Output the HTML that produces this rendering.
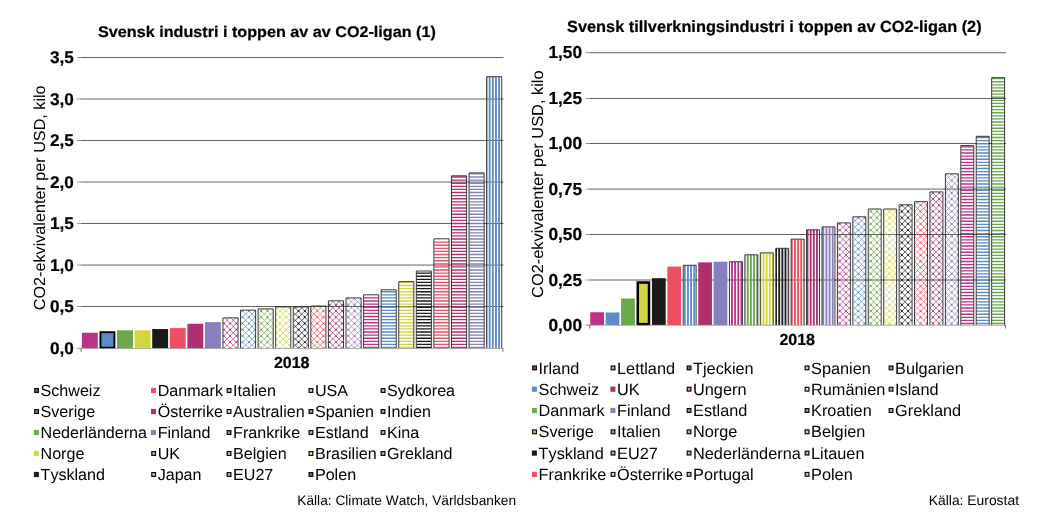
<!DOCTYPE html>
<html lang="sv">
<head>
<meta charset="utf-8">
<title>Svensk industri i toppen av CO2-ligan</title>
<style>
html,body{margin:0;padding:0;background:#fff;}
body{width:1058px;height:529px;overflow:hidden;}
svg{display:block;}
text{font-family:"Liberation Sans",Arial,Helvetica,sans-serif;fill:#000;text-rendering:geometricPrecision;font-kerning:none;}
.b{font-weight:bold;font-size:16px;stroke:#000;stroke-width:0.22px;stroke-linejoin:round;}
.t{font-size:16px;}
.r{font-weight:normal;}
.yl{font-size:16px;}
.l{font-size:16.1px;}
.s{font-size:13.7px;}
</style>
</head>
<body>
<svg width="1058" height="529" viewBox="0 0 1058 529">
<rect width="1058" height="529" fill="#fff"/>
<g id="chart-left">
<line x1="80.6" x2="503.4" y1="57.5" y2="57.5" stroke="#3a3a3a" stroke-width="0.8"/>
<line x1="80.6" x2="503.4" y1="99.0" y2="99.0" stroke="#3a3a3a" stroke-width="0.8"/>
<line x1="80.6" x2="503.4" y1="140.5" y2="140.5" stroke="#3a3a3a" stroke-width="0.8"/>
<line x1="80.6" x2="503.4" y1="182.05" y2="182.05" stroke="#3a3a3a" stroke-width="0.8"/>
<line x1="80.6" x2="503.4" y1="223.5" y2="223.5" stroke="#3a3a3a" stroke-width="0.8"/>
<line x1="80.6" x2="503.4" y1="265.05" y2="265.05" stroke="#3a3a3a" stroke-width="0.8"/>
<line x1="80.6" x2="503.4" y1="306.5" y2="306.5" stroke="#3a3a3a" stroke-width="0.8"/>
<rect x="81.90" y="332.75" width="15.90" height="15.50" fill="#c0318b"/>
<rect x="100.43" y="332.20" width="14.00" height="15.50" fill="#5b8bc8" stroke="#000" stroke-width="1.9"/>
<rect x="117.06" y="330.30" width="15.90" height="17.95" fill="#6aa84c"/>
<rect x="134.64" y="330.30" width="15.90" height="17.95" fill="#d3d63e"/>
<rect x="152.22" y="329.00" width="15.90" height="19.25" fill="#1a1a1a"/>
<rect x="169.80" y="328.10" width="15.90" height="20.15" fill="#f04e62"/>
<rect x="187.38" y="323.75" width="15.90" height="24.50" fill="#b02f70"/>
<rect x="204.96" y="322.10" width="15.90" height="26.15" fill="#877fbe"/>
<clipPath id="cl8"><rect x="223.24" y="318.20" width="14.50" height="30.05"/></clipPath>
<g clip-path="url(#cl8)"><path d="M223.24 353.86L237.74 368.36M223.24 347.64L237.74 362.14M223.24 341.42L237.74 355.92M223.24 335.20L237.74 349.70M223.24 328.98L237.74 343.48M223.24 322.76L237.74 337.26M223.24 316.54L237.74 331.04M223.24 310.32L237.74 324.82M223.24 304.10L237.74 318.60M223.24 297.88L237.74 312.38M223.24 317.90L237.74 303.40M223.24 324.12L237.74 309.62M223.24 330.34L237.74 315.84M223.24 336.56L237.74 322.06M223.24 342.78L237.74 328.28M223.24 349.00L237.74 334.50M223.24 355.22L237.74 340.72M223.24 361.44L237.74 346.94M223.24 367.66L237.74 353.16" stroke="#c0318b" stroke-width="0.68" fill="none"/><path d="M217.70 317.22h0M217.70 323.44h0M217.70 329.66h0M217.70 335.88h0M217.70 342.10h0M217.70 348.32h0M223.92 317.22h0M223.92 323.44h0M223.92 329.66h0M223.92 335.88h0M223.92 342.10h0M223.92 348.32h0M230.14 317.22h0M230.14 323.44h0M230.14 329.66h0M230.14 335.88h0M230.14 342.10h0M230.14 348.32h0M236.36 317.22h0M236.36 323.44h0M236.36 329.66h0M236.36 335.88h0M236.36 342.10h0M236.36 348.32h0M242.58 317.22h0M242.58 323.44h0M242.58 329.66h0M242.58 335.88h0M242.58 342.10h0M242.58 348.32h0" stroke="#c0318b" stroke-width="1.9" stroke-linecap="round" fill="none"/></g>
<path d="M222.94 348.25V317.90H238.04V348.25" fill="none" stroke="#151515" stroke-width="0.85"/>
<clipPath id="cl9"><rect x="240.82" y="310.45" width="14.50" height="37.80"/></clipPath>
<g clip-path="url(#cl9)"><path d="M240.82 352.78L255.32 367.28M240.82 346.56L255.32 361.06M240.82 340.34L255.32 354.84M240.82 334.12L255.32 348.62M240.82 327.90L255.32 342.40M240.82 321.68L255.32 336.18M240.82 315.46L255.32 329.96M240.82 309.24L255.32 323.74M240.82 303.02L255.32 317.52M240.82 296.80L255.32 311.30M240.82 290.58L255.32 305.08M240.82 306.54L255.32 292.04M240.82 312.76L255.32 298.26M240.82 318.98L255.32 304.48M240.82 325.20L255.32 310.70M240.82 331.42L255.32 316.92M240.82 337.64L255.32 323.14M240.82 343.86L255.32 329.36M240.82 350.08L255.32 335.58M240.82 356.30L255.32 341.80M240.82 362.52L255.32 348.02M240.82 368.74L255.32 354.24" stroke="#5b8bc8" stroke-width="0.68" fill="none"/><path d="M236.36 304.78h0M236.36 311.00h0M236.36 317.22h0M236.36 323.44h0M236.36 329.66h0M236.36 335.88h0M236.36 342.10h0M236.36 348.32h0M242.58 304.78h0M242.58 311.00h0M242.58 317.22h0M242.58 323.44h0M242.58 329.66h0M242.58 335.88h0M242.58 342.10h0M242.58 348.32h0M248.80 304.78h0M248.80 311.00h0M248.80 317.22h0M248.80 323.44h0M248.80 329.66h0M248.80 335.88h0M248.80 342.10h0M248.80 348.32h0M255.02 304.78h0M255.02 311.00h0M255.02 317.22h0M255.02 323.44h0M255.02 329.66h0M255.02 335.88h0M255.02 342.10h0M255.02 348.32h0M261.24 304.78h0M261.24 311.00h0M261.24 317.22h0M261.24 323.44h0M261.24 329.66h0M261.24 335.88h0M261.24 342.10h0M261.24 348.32h0" stroke="#5b8bc8" stroke-width="1.9" stroke-linecap="round" fill="none"/></g>
<path d="M240.52 348.25V310.15H255.62V348.25" fill="none" stroke="#151515" stroke-width="0.85"/>
<clipPath id="cl10"><rect x="258.40" y="309.20" width="14.50" height="39.05"/></clipPath>
<g clip-path="url(#cl10)"><path d="M258.40 351.70L272.90 366.20M258.40 345.48L272.90 359.98M258.40 339.26L272.90 353.76M258.40 333.04L272.90 347.54M258.40 326.82L272.90 341.32M258.40 320.60L272.90 335.10M258.40 314.38L272.90 328.88M258.40 308.16L272.90 322.66M258.40 301.94L272.90 316.44M258.40 295.72L272.90 310.22M258.40 289.50L272.90 304.00M258.40 307.62L272.90 293.12M258.40 313.84L272.90 299.34M258.40 320.06L272.90 305.56M258.40 326.28L272.90 311.78M258.40 332.50L272.90 318.00M258.40 338.72L272.90 324.22M258.40 344.94L272.90 330.44M258.40 351.16L272.90 336.66M258.40 357.38L272.90 342.88M258.40 363.60L272.90 349.10" stroke="#6aa84c" stroke-width="0.68" fill="none"/><path d="M255.02 304.78h0M255.02 311.00h0M255.02 317.22h0M255.02 323.44h0M255.02 329.66h0M255.02 335.88h0M255.02 342.10h0M255.02 348.32h0M261.24 304.78h0M261.24 311.00h0M261.24 317.22h0M261.24 323.44h0M261.24 329.66h0M261.24 335.88h0M261.24 342.10h0M261.24 348.32h0M267.46 304.78h0M267.46 311.00h0M267.46 317.22h0M267.46 323.44h0M267.46 329.66h0M267.46 335.88h0M267.46 342.10h0M267.46 348.32h0M273.68 304.78h0M273.68 311.00h0M273.68 317.22h0M273.68 323.44h0M273.68 329.66h0M273.68 335.88h0M273.68 342.10h0M273.68 348.32h0" stroke="#6aa84c" stroke-width="1.9" stroke-linecap="round" fill="none"/></g>
<path d="M258.10 348.25V308.90H273.20V348.25" fill="none" stroke="#151515" stroke-width="0.85"/>
<clipPath id="cl11"><rect x="275.98" y="307.20" width="14.50" height="41.05"/></clipPath>
<g clip-path="url(#cl11)"><path d="M275.98 350.62L290.48 365.12M275.98 344.40L290.48 358.90M275.98 338.18L290.48 352.68M275.98 331.96L290.48 346.46M275.98 325.74L290.48 340.24M275.98 319.52L290.48 334.02M275.98 313.30L290.48 327.80M275.98 307.08L290.48 321.58M275.98 300.86L290.48 315.36M275.98 294.64L290.48 309.14M275.98 288.42L290.48 302.92M275.98 302.48L290.48 287.98M275.98 308.70L290.48 294.20M275.98 314.92L290.48 300.42M275.98 321.14L290.48 306.64M275.98 327.36L290.48 312.86M275.98 333.58L290.48 319.08M275.98 339.80L290.48 325.30M275.98 346.02L290.48 331.52M275.98 352.24L290.48 337.74M275.98 358.46L290.48 343.96M275.98 364.68L290.48 350.18" stroke="#d3d63e" stroke-width="0.68" fill="none"/><path d="M273.68 304.78h0M273.68 311.00h0M273.68 317.22h0M273.68 323.44h0M273.68 329.66h0M273.68 335.88h0M273.68 342.10h0M273.68 348.32h0M279.90 304.78h0M279.90 311.00h0M279.90 317.22h0M279.90 323.44h0M279.90 329.66h0M279.90 335.88h0M279.90 342.10h0M279.90 348.32h0M286.12 304.78h0M286.12 311.00h0M286.12 317.22h0M286.12 323.44h0M286.12 329.66h0M286.12 335.88h0M286.12 342.10h0M286.12 348.32h0M292.34 304.78h0M292.34 311.00h0M292.34 317.22h0M292.34 323.44h0M292.34 329.66h0M292.34 335.88h0M292.34 342.10h0M292.34 348.32h0" stroke="#d3d63e" stroke-width="1.9" stroke-linecap="round" fill="none"/></g>
<path d="M275.68 348.25V306.90H290.78V348.25" fill="none" stroke="#151515" stroke-width="0.85"/>
<clipPath id="cl12"><rect x="293.56" y="307.20" width="14.50" height="41.05"/></clipPath>
<g clip-path="url(#cl12)"><path d="M293.56 349.54L308.06 364.04M293.56 343.32L308.06 357.82M293.56 337.10L308.06 351.60M293.56 330.88L308.06 345.38M293.56 324.66L308.06 339.16M293.56 318.44L308.06 332.94M293.56 312.22L308.06 326.72M293.56 306.00L308.06 320.50M293.56 299.78L308.06 314.28M293.56 293.56L308.06 308.06M293.56 287.34L308.06 301.84M293.56 303.56L308.06 289.06M293.56 309.78L308.06 295.28M293.56 316.00L308.06 301.50M293.56 322.22L308.06 307.72M293.56 328.44L308.06 313.94M293.56 334.66L308.06 320.16M293.56 340.88L308.06 326.38M293.56 347.10L308.06 332.60M293.56 353.32L308.06 338.82M293.56 359.54L308.06 345.04M293.56 365.76L308.06 351.26" stroke="#1a1a1a" stroke-width="0.68" fill="none"/><path d="M292.34 304.78h0M292.34 311.00h0M292.34 317.22h0M292.34 323.44h0M292.34 329.66h0M292.34 335.88h0M292.34 342.10h0M292.34 348.32h0M298.56 304.78h0M298.56 311.00h0M298.56 317.22h0M298.56 323.44h0M298.56 329.66h0M298.56 335.88h0M298.56 342.10h0M298.56 348.32h0M304.78 304.78h0M304.78 311.00h0M304.78 317.22h0M304.78 323.44h0M304.78 329.66h0M304.78 335.88h0M304.78 342.10h0M304.78 348.32h0M311.00 304.78h0M311.00 311.00h0M311.00 317.22h0M311.00 323.44h0M311.00 329.66h0M311.00 335.88h0M311.00 342.10h0M311.00 348.32h0" stroke="#1a1a1a" stroke-width="1.9" stroke-linecap="round" fill="none"/></g>
<path d="M293.26 348.25V306.90H308.36V348.25" fill="none" stroke="#151515" stroke-width="0.85"/>
<clipPath id="cl13"><rect x="311.14" y="306.30" width="14.50" height="41.95"/></clipPath>
<g clip-path="url(#cl13)"><path d="M311.14 348.46L325.64 362.96M311.14 342.24L325.64 356.74M311.14 336.02L325.64 350.52M311.14 329.80L325.64 344.30M311.14 323.58L325.64 338.08M311.14 317.36L325.64 331.86M311.14 311.14L325.64 325.64M311.14 304.92L325.64 319.42M311.14 298.70L325.64 313.20M311.14 292.48L325.64 306.98M311.14 286.26L325.64 300.76M311.14 304.64L325.64 290.14M311.14 310.86L325.64 296.36M311.14 317.08L325.64 302.58M311.14 323.30L325.64 308.80M311.14 329.52L325.64 315.02M311.14 335.74L325.64 321.24M311.14 341.96L325.64 327.46M311.14 348.18L325.64 333.68M311.14 354.40L325.64 339.90M311.14 360.62L325.64 346.12M311.14 366.84L325.64 352.34" stroke="#f04e62" stroke-width="0.68" fill="none"/><path d="M311.00 304.78h0M311.00 311.00h0M311.00 317.22h0M311.00 323.44h0M311.00 329.66h0M311.00 335.88h0M311.00 342.10h0M311.00 348.32h0M317.22 304.78h0M317.22 311.00h0M317.22 317.22h0M317.22 323.44h0M317.22 329.66h0M317.22 335.88h0M317.22 342.10h0M317.22 348.32h0M323.44 304.78h0M323.44 311.00h0M323.44 317.22h0M323.44 323.44h0M323.44 329.66h0M323.44 335.88h0M323.44 342.10h0M323.44 348.32h0M329.66 304.78h0M329.66 311.00h0M329.66 317.22h0M329.66 323.44h0M329.66 329.66h0M329.66 335.88h0M329.66 342.10h0M329.66 348.32h0" stroke="#f04e62" stroke-width="1.9" stroke-linecap="round" fill="none"/></g>
<path d="M310.84 348.25V306.00H325.94V348.25" fill="none" stroke="#151515" stroke-width="0.85"/>
<clipPath id="cl14"><rect x="328.72" y="301.10" width="14.50" height="47.15"/></clipPath>
<g clip-path="url(#cl14)"><path d="M328.72 353.60L343.22 368.10M328.72 347.38L343.22 361.88M328.72 341.16L343.22 355.66M328.72 334.94L343.22 349.44M328.72 328.72L343.22 343.22M328.72 322.50L343.22 337.00M328.72 316.28L343.22 330.78M328.72 310.06L343.22 324.56M328.72 303.84L343.22 318.34M328.72 297.62L343.22 312.12M328.72 291.40L343.22 305.90M328.72 285.18L343.22 299.68M328.72 299.50L343.22 285.00M328.72 305.72L343.22 291.22M328.72 311.94L343.22 297.44M328.72 318.16L343.22 303.66M328.72 324.38L343.22 309.88M328.72 330.60L343.22 316.10M328.72 336.82L343.22 322.32M328.72 343.04L343.22 328.54M328.72 349.26L343.22 334.76M328.72 355.48L343.22 340.98M328.72 361.70L343.22 347.20M328.72 367.92L343.22 353.42" stroke="#b02f70" stroke-width="0.68" fill="none"/><path d="M323.44 298.56h0M323.44 304.78h0M323.44 311.00h0M323.44 317.22h0M323.44 323.44h0M323.44 329.66h0M323.44 335.88h0M323.44 342.10h0M323.44 348.32h0M329.66 298.56h0M329.66 304.78h0M329.66 311.00h0M329.66 317.22h0M329.66 323.44h0M329.66 329.66h0M329.66 335.88h0M329.66 342.10h0M329.66 348.32h0M335.88 298.56h0M335.88 304.78h0M335.88 311.00h0M335.88 317.22h0M335.88 323.44h0M335.88 329.66h0M335.88 335.88h0M335.88 342.10h0M335.88 348.32h0M342.10 298.56h0M342.10 304.78h0M342.10 311.00h0M342.10 317.22h0M342.10 323.44h0M342.10 329.66h0M342.10 335.88h0M342.10 342.10h0M342.10 348.32h0M348.32 298.56h0M348.32 304.78h0M348.32 311.00h0M348.32 317.22h0M348.32 323.44h0M348.32 329.66h0M348.32 335.88h0M348.32 342.10h0M348.32 348.32h0" stroke="#b02f70" stroke-width="1.9" stroke-linecap="round" fill="none"/></g>
<path d="M328.42 348.25V300.80H343.52V348.25" fill="none" stroke="#151515" stroke-width="0.85"/>
<clipPath id="cl15"><rect x="346.30" y="298.20" width="14.50" height="50.05"/></clipPath>
<g clip-path="url(#cl15)"><path d="M346.30 352.52L360.80 367.02M346.30 346.30L360.80 360.80M346.30 340.08L360.80 354.58M346.30 333.86L360.80 348.36M346.30 327.64L360.80 342.14M346.30 321.42L360.80 335.92M346.30 315.20L360.80 329.70M346.30 308.98L360.80 323.48M346.30 302.76L360.80 317.26M346.30 296.54L360.80 311.04M346.30 290.32L360.80 304.82M346.30 284.10L360.80 298.60M346.30 277.88L360.80 292.38M346.30 294.36L360.80 279.86M346.30 300.58L360.80 286.08M346.30 306.80L360.80 292.30M346.30 313.02L360.80 298.52M346.30 319.24L360.80 304.74M346.30 325.46L360.80 310.96M346.30 331.68L360.80 317.18M346.30 337.90L360.80 323.40M346.30 344.12L360.80 329.62M346.30 350.34L360.80 335.84M346.30 356.56L360.80 342.06M346.30 362.78L360.80 348.28" stroke="#877fbe" stroke-width="0.68" fill="none"/><path d="M342.10 292.34h0M342.10 298.56h0M342.10 304.78h0M342.10 311.00h0M342.10 317.22h0M342.10 323.44h0M342.10 329.66h0M342.10 335.88h0M342.10 342.10h0M342.10 348.32h0M348.32 292.34h0M348.32 298.56h0M348.32 304.78h0M348.32 311.00h0M348.32 317.22h0M348.32 323.44h0M348.32 329.66h0M348.32 335.88h0M348.32 342.10h0M348.32 348.32h0M354.54 292.34h0M354.54 298.56h0M354.54 304.78h0M354.54 311.00h0M354.54 317.22h0M354.54 323.44h0M354.54 329.66h0M354.54 335.88h0M354.54 342.10h0M354.54 348.32h0M360.76 292.34h0M360.76 298.56h0M360.76 304.78h0M360.76 311.00h0M360.76 317.22h0M360.76 323.44h0M360.76 329.66h0M360.76 335.88h0M360.76 342.10h0M360.76 348.32h0M366.98 292.34h0M366.98 298.56h0M366.98 304.78h0M366.98 311.00h0M366.98 317.22h0M366.98 323.44h0M366.98 329.66h0M366.98 335.88h0M366.98 342.10h0M366.98 348.32h0" stroke="#877fbe" stroke-width="1.9" stroke-linecap="round" fill="none"/></g>
<path d="M346.00 348.25V297.90H361.10V348.25" fill="none" stroke="#151515" stroke-width="0.85"/>
<path d="M363.88 297.90H378.38M363.88 301.00H378.38M363.88 304.10H378.38M363.88 307.20H378.38M363.88 310.30H378.38M363.88 313.40H378.38M363.88 316.50H378.38M363.88 319.60H378.38M363.88 322.70H378.38M363.88 325.80H378.38M363.88 328.90H378.38M363.88 332.00H378.38M363.88 335.10H378.38M363.88 338.20H378.38M363.88 341.30H378.38M363.88 344.40H378.38M363.88 347.50H378.38" stroke="#c0318b" stroke-width="1.35" fill="none"/>
<path d="M363.58 348.25V294.80H378.68V348.25" fill="none" stroke="#151515" stroke-width="0.85"/>
<path d="M381.46 291.70H395.96M381.46 294.80H395.96M381.46 297.90H395.96M381.46 301.00H395.96M381.46 304.10H395.96M381.46 307.20H395.96M381.46 310.30H395.96M381.46 313.40H395.96M381.46 316.50H395.96M381.46 319.60H395.96M381.46 322.70H395.96M381.46 325.80H395.96M381.46 328.90H395.96M381.46 332.00H395.96M381.46 335.10H395.96M381.46 338.20H395.96M381.46 341.30H395.96M381.46 344.40H395.96M381.46 347.50H395.96" stroke="#5b8bc8" stroke-width="1.35" fill="none"/>
<path d="M381.16 348.25V289.80H396.26V348.25" fill="none" stroke="#151515" stroke-width="0.85"/>
<path d="M399.04 282.40H413.54M399.04 285.50H413.54M399.04 288.60H413.54M399.04 291.70H413.54M399.04 294.80H413.54M399.04 297.90H413.54M399.04 301.00H413.54M399.04 304.10H413.54M399.04 307.20H413.54M399.04 310.30H413.54M399.04 313.40H413.54M399.04 316.50H413.54M399.04 319.60H413.54M399.04 322.70H413.54M399.04 325.80H413.54M399.04 328.90H413.54M399.04 332.00H413.54M399.04 335.10H413.54M399.04 338.20H413.54M399.04 341.30H413.54M399.04 344.40H413.54M399.04 347.50H413.54" stroke="#d3d63e" stroke-width="1.35" fill="none"/>
<path d="M398.74 348.25V281.65H413.84V348.25" fill="none" stroke="#151515" stroke-width="0.85"/>
<path d="M416.62 273.10H431.12M416.62 276.20H431.12M416.62 279.30H431.12M416.62 282.40H431.12M416.62 285.50H431.12M416.62 288.60H431.12M416.62 291.70H431.12M416.62 294.80H431.12M416.62 297.90H431.12M416.62 301.00H431.12M416.62 304.10H431.12M416.62 307.20H431.12M416.62 310.30H431.12M416.62 313.40H431.12M416.62 316.50H431.12M416.62 319.60H431.12M416.62 322.70H431.12M416.62 325.80H431.12M416.62 328.90H431.12M416.62 332.00H431.12M416.62 335.10H431.12M416.62 338.20H431.12M416.62 341.30H431.12M416.62 344.40H431.12M416.62 347.50H431.12" stroke="#1a1a1a" stroke-width="1.35" fill="none"/>
<path d="M416.32 348.25V271.00H431.42V348.25" fill="none" stroke="#151515" stroke-width="0.85"/>
<path d="M434.20 242.10H448.70M434.20 245.20H448.70M434.20 248.30H448.70M434.20 251.40H448.70M434.20 254.50H448.70M434.20 257.60H448.70M434.20 260.70H448.70M434.20 263.80H448.70M434.20 266.90H448.70M434.20 270.00H448.70M434.20 273.10H448.70M434.20 276.20H448.70M434.20 279.30H448.70M434.20 282.40H448.70M434.20 285.50H448.70M434.20 288.60H448.70M434.20 291.70H448.70M434.20 294.80H448.70M434.20 297.90H448.70M434.20 301.00H448.70M434.20 304.10H448.70M434.20 307.20H448.70M434.20 310.30H448.70M434.20 313.40H448.70M434.20 316.50H448.70M434.20 319.60H448.70M434.20 322.70H448.70M434.20 325.80H448.70M434.20 328.90H448.70M434.20 332.00H448.70M434.20 335.10H448.70M434.20 338.20H448.70M434.20 341.30H448.70M434.20 344.40H448.70M434.20 347.50H448.70" stroke="#f04e62" stroke-width="1.35" fill="none"/>
<path d="M433.90 348.25V238.80H449.00V348.25" fill="none" stroke="#151515" stroke-width="0.85"/>
<path d="M451.78 177.00H466.28M451.78 180.10H466.28M451.78 183.20H466.28M451.78 186.30H466.28M451.78 189.40H466.28M451.78 192.50H466.28M451.78 195.60H466.28M451.78 198.70H466.28M451.78 201.80H466.28M451.78 204.90H466.28M451.78 208.00H466.28M451.78 211.10H466.28M451.78 214.20H466.28M451.78 217.30H466.28M451.78 220.40H466.28M451.78 223.50H466.28M451.78 226.60H466.28M451.78 229.70H466.28M451.78 232.80H466.28M451.78 235.90H466.28M451.78 239.00H466.28M451.78 242.10H466.28M451.78 245.20H466.28M451.78 248.30H466.28M451.78 251.40H466.28M451.78 254.50H466.28M451.78 257.60H466.28M451.78 260.70H466.28M451.78 263.80H466.28M451.78 266.90H466.28M451.78 270.00H466.28M451.78 273.10H466.28M451.78 276.20H466.28M451.78 279.30H466.28M451.78 282.40H466.28M451.78 285.50H466.28M451.78 288.60H466.28M451.78 291.70H466.28M451.78 294.80H466.28M451.78 297.90H466.28M451.78 301.00H466.28M451.78 304.10H466.28M451.78 307.20H466.28M451.78 310.30H466.28M451.78 313.40H466.28M451.78 316.50H466.28M451.78 319.60H466.28M451.78 322.70H466.28M451.78 325.80H466.28M451.78 328.90H466.28M451.78 332.00H466.28M451.78 335.10H466.28M451.78 338.20H466.28M451.78 341.30H466.28M451.78 344.40H466.28M451.78 347.50H466.28" stroke="#b02f70" stroke-width="1.35" fill="none"/>
<path d="M451.48 348.25V175.80H466.58V348.25" fill="none" stroke="#151515" stroke-width="0.85"/>
<path d="M469.36 173.90H483.86M469.36 177.00H483.86M469.36 180.10H483.86M469.36 183.20H483.86M469.36 186.30H483.86M469.36 189.40H483.86M469.36 192.50H483.86M469.36 195.60H483.86M469.36 198.70H483.86M469.36 201.80H483.86M469.36 204.90H483.86M469.36 208.00H483.86M469.36 211.10H483.86M469.36 214.20H483.86M469.36 217.30H483.86M469.36 220.40H483.86M469.36 223.50H483.86M469.36 226.60H483.86M469.36 229.70H483.86M469.36 232.80H483.86M469.36 235.90H483.86M469.36 239.00H483.86M469.36 242.10H483.86M469.36 245.20H483.86M469.36 248.30H483.86M469.36 251.40H483.86M469.36 254.50H483.86M469.36 257.60H483.86M469.36 260.70H483.86M469.36 263.80H483.86M469.36 266.90H483.86M469.36 270.00H483.86M469.36 273.10H483.86M469.36 276.20H483.86M469.36 279.30H483.86M469.36 282.40H483.86M469.36 285.50H483.86M469.36 288.60H483.86M469.36 291.70H483.86M469.36 294.80H483.86M469.36 297.90H483.86M469.36 301.00H483.86M469.36 304.10H483.86M469.36 307.20H483.86M469.36 310.30H483.86M469.36 313.40H483.86M469.36 316.50H483.86M469.36 319.60H483.86M469.36 322.70H483.86M469.36 325.80H483.86M469.36 328.90H483.86M469.36 332.00H483.86M469.36 335.10H483.86M469.36 338.20H483.86M469.36 341.30H483.86M469.36 344.40H483.86M469.36 347.50H483.86" stroke="#877fbe" stroke-width="1.35" fill="none"/>
<path d="M469.06 348.25V172.90H484.16V348.25" fill="none" stroke="#151515" stroke-width="0.85"/>
<path d="M486.94 76.95H487.43V348.25H486.94ZM488.72 76.95H490.57V348.25H488.72ZM491.87 76.95H493.72V348.25H491.87ZM495.02 76.95H496.87V348.25H495.02ZM498.17 76.95H500.02V348.25H498.17Z" fill="#5b8bc8"/>
<path d="M486.64 348.25V76.65H501.74V348.25" fill="none" stroke="#151515" stroke-width="0.85"/>
<line x1="78.6" x2="503.4" y1="348.55" y2="348.55" stroke="#999" stroke-width="0.8"/>
<line x1="81.1" x2="81.1" y1="348.25" y2="351.85" stroke="#666" stroke-width="0.9"/>
<line x1="502.9" x2="502.9" y1="348.25" y2="351.85" stroke="#666" stroke-width="0.9"/>
<text x="50.02" y="63.30" class="b" style="font-size:17.0px" textLength="23.88" lengthAdjust="spacingAndGlyphs">3,5</text>
<line x1="77.00" x2="80.6" y1="57.5" y2="57.5" stroke="#8a8a8a" stroke-width="0.9"/>
<text x="50.02" y="104.80" class="b" style="font-size:17.0px" textLength="23.88" lengthAdjust="spacingAndGlyphs">3,0</text>
<line x1="77.00" x2="80.6" y1="99.0" y2="99.0" stroke="#8a8a8a" stroke-width="0.9"/>
<text x="50.02" y="146.30" class="b" style="font-size:17.0px" textLength="23.88" lengthAdjust="spacingAndGlyphs">2,5</text>
<line x1="77.00" x2="80.6" y1="140.5" y2="140.5" stroke="#8a8a8a" stroke-width="0.9"/>
<text x="50.02" y="187.85" class="b" style="font-size:17.0px" textLength="23.88" lengthAdjust="spacingAndGlyphs">2,0</text>
<line x1="77.00" x2="80.6" y1="182.05" y2="182.05" stroke="#8a8a8a" stroke-width="0.9"/>
<text x="50.02" y="229.30" class="b" style="font-size:17.0px" textLength="23.88" lengthAdjust="spacingAndGlyphs">1,5</text>
<line x1="77.00" x2="80.6" y1="223.5" y2="223.5" stroke="#8a8a8a" stroke-width="0.9"/>
<text x="50.02" y="270.85" class="b" style="font-size:17.0px" textLength="23.88" lengthAdjust="spacingAndGlyphs">1,0</text>
<line x1="77.00" x2="80.6" y1="265.05" y2="265.05" stroke="#8a8a8a" stroke-width="0.9"/>
<text x="50.02" y="312.30" class="b" style="font-size:17.0px" textLength="23.88" lengthAdjust="spacingAndGlyphs">0,5</text>
<line x1="77.00" x2="80.6" y1="306.5" y2="306.5" stroke="#8a8a8a" stroke-width="0.9"/>
<text x="50.02" y="354.05" class="b" style="font-size:17.0px" textLength="23.88" lengthAdjust="spacingAndGlyphs">0,0</text>
<line x1="77.00" x2="80.6" y1="348.25" y2="348.25" stroke="#8a8a8a" stroke-width="0.9"/>
<text x="98.10" y="36.6" class="b" style="font-size:15.45px" textLength="337.7" lengthAdjust="spacingAndGlyphs">Svensk industri i toppen av av CO2-ligan (1)</text>
<text transform="translate(45,197.8) rotate(-90)" text-anchor="middle" class="r yl" textLength="224.8" lengthAdjust="spacingAndGlyphs">CO2-ekvivalenter per USD, kilo</text>
<text x="291.7" y="368" text-anchor="middle" class="b">2018</text>
<text x="516.1" y="504.85" text-anchor="end" class="r" style="font-size:13.72px">Källa: Climate Watch, Världsbanken</text>
<rect x="34.10" y="388.00" width="4.9" height="5.0" fill="#0a0a0a"/><rect x="35.30" y="389.20" width="2.5" height="2.6" fill="#c0318b"/>
<text x="40.55" y="396.10" class="r" style="font-size:16.1px">Schweiz</text>
<rect x="34.10" y="409.00" width="4.9" height="5.0" fill="#0a0a0a"/><rect x="35.30" y="410.20" width="2.5" height="2.6" fill="#5b8bc8"/>
<text x="40.55" y="417.10" class="r" style="font-size:16.1px">Sverige</text>
<rect x="33.9" y="429.90" width="5.0" height="5.2" fill="#6aa84c"/>
<text x="40.55" y="438.10" class="r" style="font-size:16.1px">Nederländerna</text>
<rect x="33.9" y="450.90" width="5.0" height="5.2" fill="#d3d63e"/>
<text x="40.55" y="459.10" class="r" style="font-size:16.1px">Norge</text>
<rect x="33.9" y="471.90" width="5.0" height="5.2" fill="#1a1a1a"/>
<text x="40.55" y="480.10" class="r" style="font-size:16.1px">Tyskland</text>
<rect x="151.0" y="387.90" width="5.0" height="5.2" fill="#f04e62"/>
<text x="157.65" y="396.10" class="r" style="font-size:16.1px">Danmark</text>
<rect x="151.0" y="408.90" width="5.0" height="5.2" fill="#b02f70"/>
<text x="157.65" y="417.10" class="r" style="font-size:16.1px">Österrike</text>
<rect x="151.0" y="429.90" width="5.0" height="5.2" fill="#877fbe"/>
<text x="157.65" y="438.10" class="r" style="font-size:16.1px">Finland</text>
<rect x="151.20" y="451.00" width="4.9" height="5.0" fill="#0a0a0a"/><rect x="152.40" y="452.20" width="2.5" height="2.6" fill="#e3a2cb"/>
<text x="157.65" y="459.10" class="r" style="font-size:16.1px">UK</text>
<rect x="151.20" y="472.00" width="4.9" height="5.0" fill="#0a0a0a"/><rect x="152.40" y="473.20" width="2.5" height="2.6" fill="#b5cbe6"/>
<text x="157.65" y="480.10" class="r" style="font-size:16.1px">Japan</text>
<rect x="226.60" y="388.00" width="4.9" height="5.0" fill="#0a0a0a"/><rect x="227.80" y="389.20" width="2.5" height="2.6" fill="#bcd8ae"/>
<text x="233.05" y="396.10" class="r" style="font-size:16.1px">Italien</text>
<rect x="226.60" y="409.00" width="4.9" height="5.0" fill="#0a0a0a"/><rect x="227.80" y="410.20" width="2.5" height="2.6" fill="#ebeda8"/>
<text x="233.05" y="417.10" class="r" style="font-size:16.1px">Australien</text>
<rect x="226.60" y="430.00" width="4.9" height="5.0" fill="#0a0a0a"/><rect x="227.80" y="431.20" width="2.5" height="2.6" fill="#989898"/>
<text x="233.05" y="438.10" class="r" style="font-size:16.1px">Frankrike</text>
<rect x="226.60" y="451.00" width="4.9" height="5.0" fill="#0a0a0a"/><rect x="227.80" y="452.20" width="2.5" height="2.6" fill="#f8afb8"/>
<text x="233.05" y="459.10" class="r" style="font-size:16.1px">Belgien</text>
<rect x="226.60" y="472.00" width="4.9" height="5.0" fill="#0a0a0a"/><rect x="227.80" y="473.20" width="2.5" height="2.6" fill="#dba1bf"/>
<text x="233.05" y="480.10" class="r" style="font-size:16.1px">EU27</text>
<rect x="308.50" y="388.00" width="4.9" height="5.0" fill="#0a0a0a"/><rect x="309.70" y="389.20" width="2.5" height="2.6" fill="#c9c5e2"/>
<text x="314.95" y="396.10" class="r" style="font-size:16.1px">USA</text>
<rect x="308.50" y="409.00" width="4.9" height="5.0" fill="#0a0a0a"/><rect x="309.70" y="410.20" width="2.5" height="2.6" fill="#d87fb7"/>
<text x="314.95" y="417.10" class="r" style="font-size:16.1px">Spanien</text>
<rect x="308.50" y="430.00" width="4.9" height="5.0" fill="#0a0a0a"/><rect x="309.70" y="431.20" width="2.5" height="2.6" fill="#99b7dd"/>
<text x="314.95" y="438.10" class="r" style="font-size:16.1px">Estland</text>
<rect x="308.50" y="451.00" width="4.9" height="5.0" fill="#0a0a0a"/><rect x="309.70" y="452.20" width="2.5" height="2.6" fill="#e4e687"/>
<text x="314.95" y="459.10" class="r" style="font-size:16.1px">Brasilien</text>
<rect x="308.50" y="472.00" width="4.9" height="5.0" fill="#0a0a0a"/><rect x="309.70" y="473.20" width="2.5" height="2.6" fill="#717171"/>
<text x="314.95" y="480.10" class="r" style="font-size:16.1px">Polen</text>
<rect x="380.60" y="388.00" width="4.9" height="5.0" fill="#0a0a0a"/><rect x="381.80" y="389.20" width="2.5" height="2.6" fill="#f6919e"/>
<text x="387.05" y="396.10" class="r" style="font-size:16.1px">Sydkorea</text>
<rect x="380.60" y="409.00" width="4.9" height="5.0" fill="#0a0a0a"/><rect x="381.80" y="410.20" width="2.5" height="2.6" fill="#ce7ea6"/>
<text x="387.05" y="417.10" class="r" style="font-size:16.1px">Indien</text>
<rect x="380.60" y="430.00" width="4.9" height="5.0" fill="#0a0a0a"/><rect x="381.80" y="431.20" width="2.5" height="2.6" fill="#b5b0d7"/>
<text x="387.05" y="438.10" class="r" style="font-size:16.1px">Kina</text>
<rect x="380.60" y="451.00" width="4.9" height="5.0" fill="#0a0a0a"/><rect x="381.80" y="452.20" width="2.5" height="2.6" fill="#99b7dd"/>
<text x="387.05" y="459.10" class="r" style="font-size:16.1px">Grekland</text>
</g>
<g id="chart-right">
<line x1="589.2" x2="1006.0" y1="52.7" y2="52.7" stroke="#3a3a3a" stroke-width="0.8"/>
<line x1="589.2" x2="1006.0" y1="98.5" y2="98.5" stroke="#3a3a3a" stroke-width="0.8"/>
<line x1="589.2" x2="1006.0" y1="143.5" y2="143.5" stroke="#3a3a3a" stroke-width="0.8"/>
<line x1="589.2" x2="1006.0" y1="189.1" y2="189.1" stroke="#3a3a3a" stroke-width="0.8"/>
<line x1="589.2" x2="1006.0" y1="234.5" y2="234.5" stroke="#3a3a3a" stroke-width="0.8"/>
<line x1="589.2" x2="1006.0" y1="280.0" y2="280.0" stroke="#3a3a3a" stroke-width="0.8"/>
<rect x="590.25" y="312.25" width="13.75" height="12.75" fill="#c0318b"/>
<rect x="605.67" y="312.50" width="13.75" height="12.50" fill="#5b8bc8"/>
<rect x="621.10" y="298.50" width="13.75" height="26.50" fill="#6aa84c"/>
<rect x="637.77" y="282.50" width="11.25" height="41.65" fill="#d3d63e" stroke="#000" stroke-width="2.5"/>
<rect x="651.94" y="278.20" width="13.75" height="46.80" fill="#1a1a1a"/>
<rect x="667.37" y="266.60" width="13.75" height="58.40" fill="#f04e62"/>
<path d="M683.87 265.60H685.72V325.00H683.87ZM687.02 265.60H688.87V325.00H687.02ZM690.16 265.60H692.01V325.00H690.16ZM693.31 265.60H695.16V325.00H693.31Z" fill="#5b8bc8"/>
<path d="M683.19 325.00V265.30H696.14V325.00" fill="none" stroke="#151515" stroke-width="0.85"/>
<rect x="698.21" y="262.35" width="13.75" height="62.65" fill="#b02f70"/>
<rect x="713.63" y="261.70" width="13.75" height="63.30" fill="#877fbe"/>
<path d="M731.08 262.00H732.93V325.00H731.08ZM734.22 262.00H736.07V325.00H734.22ZM737.37 262.00H739.22V325.00H737.37ZM740.52 262.00H742.11V325.00H740.52Z" fill="#c0318b"/>
<path d="M729.46 325.00V261.70H742.41V325.00" fill="none" stroke="#151515" stroke-width="0.85"/>
<path d="M745.18 255.10H745.51V325.00H745.18ZM746.81 255.10H748.66V325.00H746.81ZM749.96 255.10H751.81V325.00H749.96ZM753.10 255.10H754.95V325.00H753.10ZM756.25 255.10H757.53V325.00H756.25Z" fill="#6aa84c"/>
<path d="M744.88 325.00V254.80H757.83V325.00" fill="none" stroke="#151515" stroke-width="0.85"/>
<path d="M760.60 253.20H761.25V325.00H760.60ZM762.55 253.20H764.40V325.00H762.55ZM765.69 253.20H767.54V325.00H765.69ZM768.84 253.20H770.69V325.00H768.84ZM771.99 253.20H772.95V325.00H771.99Z" fill="#d3d63e"/>
<path d="M760.30 325.00V252.90H773.25V325.00" fill="none" stroke="#151515" stroke-width="0.85"/>
<path d="M776.03 248.60H776.98V325.00H776.03ZM778.28 248.60H780.13V325.00H778.28ZM781.43 248.60H783.28V325.00H781.43ZM784.57 248.60H786.42V325.00H784.57ZM787.72 248.60H788.38V325.00H787.72Z" fill="#1a1a1a"/>
<path d="M775.73 325.00V248.30H788.68V325.00" fill="none" stroke="#151515" stroke-width="0.85"/>
<path d="M791.45 239.45H792.72V325.00H791.45ZM794.02 239.45H795.87V325.00H794.02ZM797.16 239.45H799.01V325.00H797.16ZM800.31 239.45H802.16V325.00H800.31ZM803.46 239.45H803.80V325.00H803.46Z" fill="#f04e62"/>
<path d="M791.15 325.00V239.15H804.10V325.00" fill="none" stroke="#151515" stroke-width="0.85"/>
<path d="M806.87 230.10H808.45V325.00H806.87ZM809.75 230.10H811.60V325.00H809.75ZM812.90 230.10H814.75V325.00H812.90ZM816.04 230.10H817.89V325.00H816.04Z" fill="#b02f70"/>
<path d="M806.57 325.00V229.80H819.52V325.00" fill="none" stroke="#151515" stroke-width="0.85"/>
<path d="M822.34 227.20H824.19V325.00H822.34ZM825.49 227.20H827.34V325.00H825.49ZM828.63 227.20H830.48V325.00H828.63ZM831.78 227.20H833.63V325.00H831.78Z" fill="#877fbe"/>
<path d="M822.00 325.00V226.90H834.95V325.00" fill="none" stroke="#151515" stroke-width="0.85"/>
<clipPath id="cr16"><rect x="837.72" y="223.20" width="12.35" height="101.80"/></clipPath>
<g clip-path="url(#cr16)"><path d="M837.72 327.68L850.07 340.03M837.72 321.46L850.07 333.81M837.72 315.24L850.07 327.59M837.72 309.02L850.07 321.37M837.72 302.80L850.07 315.15M837.72 296.58L850.07 308.93M837.72 290.36L850.07 302.71M837.72 284.14L850.07 296.49M837.72 277.92L850.07 290.27M837.72 271.70L850.07 284.05M837.72 265.48L850.07 277.83M837.72 259.26L850.07 271.61M837.72 253.04L850.07 265.39M837.72 246.82L850.07 259.17M837.72 240.60L850.07 252.95M837.72 234.38L850.07 246.73M837.72 228.16L850.07 240.51M837.72 221.94L850.07 234.29M837.72 215.72L850.07 228.07M837.72 209.50L850.07 221.85M837.72 219.68L850.07 207.33M837.72 225.90L850.07 213.55M837.72 232.12L850.07 219.77M837.72 238.34L850.07 225.99M837.72 244.56L850.07 232.21M837.72 250.78L850.07 238.43M837.72 257.00L850.07 244.65M837.72 263.22L850.07 250.87M837.72 269.44L850.07 257.09M837.72 275.66L850.07 263.31M837.72 281.88L850.07 269.53M837.72 288.10L850.07 275.75M837.72 294.32L850.07 281.97M837.72 300.54L850.07 288.19M837.72 306.76L850.07 294.41M837.72 312.98L850.07 300.63M837.72 319.20L850.07 306.85M837.72 325.42L850.07 313.07M837.72 331.64L850.07 319.29M837.72 337.86L850.07 325.51" stroke="#c0318b" stroke-width="0.68" fill="none"/><path d="M833.48 217.70h0M833.48 223.92h0M833.48 230.14h0M833.48 236.36h0M833.48 242.58h0M833.48 248.80h0M833.48 255.02h0M833.48 261.24h0M833.48 267.46h0M833.48 273.68h0M833.48 279.90h0M833.48 286.12h0M833.48 292.34h0M833.48 298.56h0M833.48 304.78h0M833.48 311.00h0M833.48 317.22h0M833.48 323.44h0M833.48 329.66h0M839.70 217.70h0M839.70 223.92h0M839.70 230.14h0M839.70 236.36h0M839.70 242.58h0M839.70 248.80h0M839.70 255.02h0M839.70 261.24h0M839.70 267.46h0M839.70 273.68h0M839.70 279.90h0M839.70 286.12h0M839.70 292.34h0M839.70 298.56h0M839.70 304.78h0M839.70 311.00h0M839.70 317.22h0M839.70 323.44h0M839.70 329.66h0M845.92 217.70h0M845.92 223.92h0M845.92 230.14h0M845.92 236.36h0M845.92 242.58h0M845.92 248.80h0M845.92 255.02h0M845.92 261.24h0M845.92 267.46h0M845.92 273.68h0M845.92 279.90h0M845.92 286.12h0M845.92 292.34h0M845.92 298.56h0M845.92 304.78h0M845.92 311.00h0M845.92 317.22h0M845.92 323.44h0M845.92 329.66h0M852.14 217.70h0M852.14 223.92h0M852.14 230.14h0M852.14 236.36h0M852.14 242.58h0M852.14 248.80h0M852.14 255.02h0M852.14 261.24h0M852.14 267.46h0M852.14 273.68h0M852.14 279.90h0M852.14 286.12h0M852.14 292.34h0M852.14 298.56h0M852.14 304.78h0M852.14 311.00h0M852.14 317.22h0M852.14 323.44h0M852.14 329.66h0" stroke="#c0318b" stroke-width="1.9" stroke-linecap="round" fill="none"/></g>
<path d="M837.42 325.00V222.90H850.37V325.00" fill="none" stroke="#151515" stroke-width="0.85"/>
<clipPath id="cr17"><rect x="853.14" y="217.10" width="12.35" height="107.90"/></clipPath>
<g clip-path="url(#cr17)"><path d="M853.14 330.66L865.49 343.01M853.14 324.44L865.49 336.79M853.14 318.22L865.49 330.57M853.14 312.00L865.49 324.35M853.14 305.78L865.49 318.13M853.14 299.56L865.49 311.91M853.14 293.34L865.49 305.69M853.14 287.12L865.49 299.47M853.14 280.90L865.49 293.25M853.14 274.68L865.49 287.03M853.14 268.46L865.49 280.81M853.14 262.24L865.49 274.59M853.14 256.02L865.49 268.37M853.14 249.80L865.49 262.15M853.14 243.58L865.49 255.93M853.14 237.36L865.49 249.71M853.14 231.14L865.49 243.49M853.14 224.92L865.49 237.27M853.14 218.70L865.49 231.05M853.14 212.48L865.49 224.83M853.14 206.26L865.49 218.61M853.14 200.04L865.49 212.39M853.14 216.70L865.49 204.35M853.14 222.92L865.49 210.57M853.14 229.14L865.49 216.79M853.14 235.36L865.49 223.01M853.14 241.58L865.49 229.23M853.14 247.80L865.49 235.45M853.14 254.02L865.49 241.67M853.14 260.24L865.49 247.89M853.14 266.46L865.49 254.11M853.14 272.68L865.49 260.33M853.14 278.90L865.49 266.55M853.14 285.12L865.49 272.77M853.14 291.34L865.49 278.99M853.14 297.56L865.49 285.21M853.14 303.78L865.49 291.43M853.14 310.00L865.49 297.65M853.14 316.22L865.49 303.87M853.14 322.44L865.49 310.09M853.14 328.66L865.49 316.31M853.14 334.88L865.49 322.53M853.14 341.10L865.49 328.75" stroke="#5b8bc8" stroke-width="0.68" fill="none"/><path d="M852.14 211.48h0M852.14 217.70h0M852.14 223.92h0M852.14 230.14h0M852.14 236.36h0M852.14 242.58h0M852.14 248.80h0M852.14 255.02h0M852.14 261.24h0M852.14 267.46h0M852.14 273.68h0M852.14 279.90h0M852.14 286.12h0M852.14 292.34h0M852.14 298.56h0M852.14 304.78h0M852.14 311.00h0M852.14 317.22h0M852.14 323.44h0M852.14 329.66h0M858.36 211.48h0M858.36 217.70h0M858.36 223.92h0M858.36 230.14h0M858.36 236.36h0M858.36 242.58h0M858.36 248.80h0M858.36 255.02h0M858.36 261.24h0M858.36 267.46h0M858.36 273.68h0M858.36 279.90h0M858.36 286.12h0M858.36 292.34h0M858.36 298.56h0M858.36 304.78h0M858.36 311.00h0M858.36 317.22h0M858.36 323.44h0M858.36 329.66h0M864.58 211.48h0M864.58 217.70h0M864.58 223.92h0M864.58 230.14h0M864.58 236.36h0M864.58 242.58h0M864.58 248.80h0M864.58 255.02h0M864.58 261.24h0M864.58 267.46h0M864.58 273.68h0M864.58 279.90h0M864.58 286.12h0M864.58 292.34h0M864.58 298.56h0M864.58 304.78h0M864.58 311.00h0M864.58 317.22h0M864.58 323.44h0M864.58 329.66h0M870.80 211.48h0M870.80 217.70h0M870.80 223.92h0M870.80 230.14h0M870.80 236.36h0M870.80 242.58h0M870.80 248.80h0M870.80 255.02h0M870.80 261.24h0M870.80 267.46h0M870.80 273.68h0M870.80 279.90h0M870.80 286.12h0M870.80 292.34h0M870.80 298.56h0M870.80 304.78h0M870.80 311.00h0M870.80 317.22h0M870.80 323.44h0M870.80 329.66h0" stroke="#5b8bc8" stroke-width="1.9" stroke-linecap="round" fill="none"/></g>
<path d="M852.84 325.00V216.80H865.79V325.00" fill="none" stroke="#151515" stroke-width="0.85"/>
<clipPath id="cr18"><rect x="868.56" y="209.30" width="12.35" height="115.70"/></clipPath>
<g clip-path="url(#cr18)"><path d="M868.56 327.42L880.91 339.77M868.56 321.20L880.91 333.55M868.56 314.98L880.91 327.33M868.56 308.76L880.91 321.11M868.56 302.54L880.91 314.89M868.56 296.32L880.91 308.67M868.56 290.10L880.91 302.45M868.56 283.88L880.91 296.23M868.56 277.66L880.91 290.01M868.56 271.44L880.91 283.79M868.56 265.22L880.91 277.57M868.56 259.00L880.91 271.35M868.56 252.78L880.91 265.13M868.56 246.56L880.91 258.91M868.56 240.34L880.91 252.69M868.56 234.12L880.91 246.47M868.56 227.90L880.91 240.25M868.56 221.68L880.91 234.03M868.56 215.46L880.91 227.81M868.56 209.24L880.91 221.59M868.56 203.02L880.91 215.37M868.56 196.80L880.91 209.15M868.56 207.50L880.91 195.15M868.56 213.72L880.91 201.37M868.56 219.94L880.91 207.59M868.56 226.16L880.91 213.81M868.56 232.38L880.91 220.03M868.56 238.60L880.91 226.25M868.56 244.82L880.91 232.47M868.56 251.04L880.91 238.69M868.56 257.26L880.91 244.91M868.56 263.48L880.91 251.13M868.56 269.70L880.91 257.35M868.56 275.92L880.91 263.57M868.56 282.14L880.91 269.79M868.56 288.36L880.91 276.01M868.56 294.58L880.91 282.23M868.56 300.80L880.91 288.45M868.56 307.02L880.91 294.67M868.56 313.24L880.91 300.89M868.56 319.46L880.91 307.11M868.56 325.68L880.91 313.33M868.56 331.90L880.91 319.55M868.56 338.12L880.91 325.77" stroke="#6aa84c" stroke-width="0.68" fill="none"/><path d="M864.58 205.26h0M864.58 211.48h0M864.58 217.70h0M864.58 223.92h0M864.58 230.14h0M864.58 236.36h0M864.58 242.58h0M864.58 248.80h0M864.58 255.02h0M864.58 261.24h0M864.58 267.46h0M864.58 273.68h0M864.58 279.90h0M864.58 286.12h0M864.58 292.34h0M864.58 298.56h0M864.58 304.78h0M864.58 311.00h0M864.58 317.22h0M864.58 323.44h0M864.58 329.66h0M870.80 205.26h0M870.80 211.48h0M870.80 217.70h0M870.80 223.92h0M870.80 230.14h0M870.80 236.36h0M870.80 242.58h0M870.80 248.80h0M870.80 255.02h0M870.80 261.24h0M870.80 267.46h0M870.80 273.68h0M870.80 279.90h0M870.80 286.12h0M870.80 292.34h0M870.80 298.56h0M870.80 304.78h0M870.80 311.00h0M870.80 317.22h0M870.80 323.44h0M870.80 329.66h0M877.02 205.26h0M877.02 211.48h0M877.02 217.70h0M877.02 223.92h0M877.02 230.14h0M877.02 236.36h0M877.02 242.58h0M877.02 248.80h0M877.02 255.02h0M877.02 261.24h0M877.02 267.46h0M877.02 273.68h0M877.02 279.90h0M877.02 286.12h0M877.02 292.34h0M877.02 298.56h0M877.02 304.78h0M877.02 311.00h0M877.02 317.22h0M877.02 323.44h0M877.02 329.66h0M883.24 205.26h0M883.24 211.48h0M883.24 217.70h0M883.24 223.92h0M883.24 230.14h0M883.24 236.36h0M883.24 242.58h0M883.24 248.80h0M883.24 255.02h0M883.24 261.24h0M883.24 267.46h0M883.24 273.68h0M883.24 279.90h0M883.24 286.12h0M883.24 292.34h0M883.24 298.56h0M883.24 304.78h0M883.24 311.00h0M883.24 317.22h0M883.24 323.44h0M883.24 329.66h0" stroke="#6aa84c" stroke-width="1.9" stroke-linecap="round" fill="none"/></g>
<path d="M868.26 325.00V209.00H881.21V325.00" fill="none" stroke="#151515" stroke-width="0.85"/>
<clipPath id="cr19"><rect x="883.99" y="209.30" width="12.35" height="115.70"/></clipPath>
<g clip-path="url(#cr19)"><path d="M883.99 330.41L896.34 342.76M883.99 324.19L896.34 336.54M883.99 317.97L896.34 330.32M883.99 311.75L896.34 324.10M883.99 305.53L896.34 317.88M883.99 299.31L896.34 311.66M883.99 293.09L896.34 305.44M883.99 286.87L896.34 299.22M883.99 280.65L896.34 293.00M883.99 274.43L896.34 286.78M883.99 268.21L896.34 280.56M883.99 261.99L896.34 274.34M883.99 255.77L896.34 268.12M883.99 249.55L896.34 261.90M883.99 243.33L896.34 255.68M883.99 237.11L896.34 249.46M883.99 230.89L896.34 243.24M883.99 224.67L896.34 237.02M883.99 218.45L896.34 230.80M883.99 212.23L896.34 224.58M883.99 206.01L896.34 218.36M883.99 199.79L896.34 212.14M883.99 193.57L896.34 205.92M883.99 204.51L896.34 192.16M883.99 210.73L896.34 198.38M883.99 216.95L896.34 204.60M883.99 223.17L896.34 210.82M883.99 229.39L896.34 217.04M883.99 235.61L896.34 223.26M883.99 241.83L896.34 229.48M883.99 248.05L896.34 235.70M883.99 254.27L896.34 241.92M883.99 260.49L896.34 248.14M883.99 266.71L896.34 254.36M883.99 272.93L896.34 260.58M883.99 279.15L896.34 266.80M883.99 285.37L896.34 273.02M883.99 291.59L896.34 279.24M883.99 297.81L896.34 285.46M883.99 304.03L896.34 291.68M883.99 310.25L896.34 297.90M883.99 316.47L896.34 304.12M883.99 322.69L896.34 310.34M883.99 328.91L896.34 316.56M883.99 335.13L896.34 322.78M883.99 341.35L896.34 329.00" stroke="#d3d63e" stroke-width="0.68" fill="none"/><path d="M883.24 205.26h0M883.24 211.48h0M883.24 217.70h0M883.24 223.92h0M883.24 230.14h0M883.24 236.36h0M883.24 242.58h0M883.24 248.80h0M883.24 255.02h0M883.24 261.24h0M883.24 267.46h0M883.24 273.68h0M883.24 279.90h0M883.24 286.12h0M883.24 292.34h0M883.24 298.56h0M883.24 304.78h0M883.24 311.00h0M883.24 317.22h0M883.24 323.44h0M883.24 329.66h0M889.46 205.26h0M889.46 211.48h0M889.46 217.70h0M889.46 223.92h0M889.46 230.14h0M889.46 236.36h0M889.46 242.58h0M889.46 248.80h0M889.46 255.02h0M889.46 261.24h0M889.46 267.46h0M889.46 273.68h0M889.46 279.90h0M889.46 286.12h0M889.46 292.34h0M889.46 298.56h0M889.46 304.78h0M889.46 311.00h0M889.46 317.22h0M889.46 323.44h0M889.46 329.66h0M895.68 205.26h0M895.68 211.48h0M895.68 217.70h0M895.68 223.92h0M895.68 230.14h0M895.68 236.36h0M895.68 242.58h0M895.68 248.80h0M895.68 255.02h0M895.68 261.24h0M895.68 267.46h0M895.68 273.68h0M895.68 279.90h0M895.68 286.12h0M895.68 292.34h0M895.68 298.56h0M895.68 304.78h0M895.68 311.00h0M895.68 317.22h0M895.68 323.44h0M895.68 329.66h0M901.90 205.26h0M901.90 211.48h0M901.90 217.70h0M901.90 223.92h0M901.90 230.14h0M901.90 236.36h0M901.90 242.58h0M901.90 248.80h0M901.90 255.02h0M901.90 261.24h0M901.90 267.46h0M901.90 273.68h0M901.90 279.90h0M901.90 286.12h0M901.90 292.34h0M901.90 298.56h0M901.90 304.78h0M901.90 311.00h0M901.90 317.22h0M901.90 323.44h0M901.90 329.66h0" stroke="#d3d63e" stroke-width="1.9" stroke-linecap="round" fill="none"/></g>
<path d="M883.69 325.00V209.00H896.64V325.00" fill="none" stroke="#151515" stroke-width="0.85"/>
<clipPath id="cr20"><rect x="899.41" y="205.10" width="12.35" height="119.90"/></clipPath>
<g clip-path="url(#cr20)"><path d="M899.41 327.17L911.76 339.52M899.41 320.95L911.76 333.30M899.41 314.73L911.76 327.08M899.41 308.51L911.76 320.86M899.41 302.29L911.76 314.64M899.41 296.07L911.76 308.42M899.41 289.85L911.76 302.20M899.41 283.63L911.76 295.98M899.41 277.41L911.76 289.76M899.41 271.19L911.76 283.54M899.41 264.97L911.76 277.32M899.41 258.75L911.76 271.10M899.41 252.53L911.76 264.88M899.41 246.31L911.76 258.66M899.41 240.09L911.76 252.44M899.41 233.87L911.76 246.22M899.41 227.65L911.76 240.00M899.41 221.43L911.76 233.78M899.41 215.21L911.76 227.56M899.41 208.99L911.76 221.34M899.41 202.77L911.76 215.12M899.41 196.55L911.76 208.90M899.41 190.33L911.76 202.68M899.41 201.53L911.76 189.18M899.41 207.75L911.76 195.40M899.41 213.97L911.76 201.62M899.41 220.19L911.76 207.84M899.41 226.41L911.76 214.06M899.41 232.63L911.76 220.28M899.41 238.85L911.76 226.50M899.41 245.07L911.76 232.72M899.41 251.29L911.76 238.94M899.41 257.51L911.76 245.16M899.41 263.73L911.76 251.38M899.41 269.95L911.76 257.60M899.41 276.17L911.76 263.82M899.41 282.39L911.76 270.04M899.41 288.61L911.76 276.26M899.41 294.83L911.76 282.48M899.41 301.05L911.76 288.70M899.41 307.27L911.76 294.92M899.41 313.49L911.76 301.14M899.41 319.71L911.76 307.36M899.41 325.93L911.76 313.58M899.41 332.15L911.76 319.80M899.41 338.37L911.76 326.02" stroke="#1a1a1a" stroke-width="0.68" fill="none"/><path d="M895.68 199.04h0M895.68 205.26h0M895.68 211.48h0M895.68 217.70h0M895.68 223.92h0M895.68 230.14h0M895.68 236.36h0M895.68 242.58h0M895.68 248.80h0M895.68 255.02h0M895.68 261.24h0M895.68 267.46h0M895.68 273.68h0M895.68 279.90h0M895.68 286.12h0M895.68 292.34h0M895.68 298.56h0M895.68 304.78h0M895.68 311.00h0M895.68 317.22h0M895.68 323.44h0M895.68 329.66h0M901.90 199.04h0M901.90 205.26h0M901.90 211.48h0M901.90 217.70h0M901.90 223.92h0M901.90 230.14h0M901.90 236.36h0M901.90 242.58h0M901.90 248.80h0M901.90 255.02h0M901.90 261.24h0M901.90 267.46h0M901.90 273.68h0M901.90 279.90h0M901.90 286.12h0M901.90 292.34h0M901.90 298.56h0M901.90 304.78h0M901.90 311.00h0M901.90 317.22h0M901.90 323.44h0M901.90 329.66h0M908.12 199.04h0M908.12 205.26h0M908.12 211.48h0M908.12 217.70h0M908.12 223.92h0M908.12 230.14h0M908.12 236.36h0M908.12 242.58h0M908.12 248.80h0M908.12 255.02h0M908.12 261.24h0M908.12 267.46h0M908.12 273.68h0M908.12 279.90h0M908.12 286.12h0M908.12 292.34h0M908.12 298.56h0M908.12 304.78h0M908.12 311.00h0M908.12 317.22h0M908.12 323.44h0M908.12 329.66h0M914.34 199.04h0M914.34 205.26h0M914.34 211.48h0M914.34 217.70h0M914.34 223.92h0M914.34 230.14h0M914.34 236.36h0M914.34 242.58h0M914.34 248.80h0M914.34 255.02h0M914.34 261.24h0M914.34 267.46h0M914.34 273.68h0M914.34 279.90h0M914.34 286.12h0M914.34 292.34h0M914.34 298.56h0M914.34 304.78h0M914.34 311.00h0M914.34 317.22h0M914.34 323.44h0M914.34 329.66h0" stroke="#1a1a1a" stroke-width="1.9" stroke-linecap="round" fill="none"/></g>
<path d="M899.11 325.00V204.80H912.06V325.00" fill="none" stroke="#151515" stroke-width="0.85"/>
<clipPath id="cr21"><rect x="914.83" y="202.00" width="12.35" height="123.00"/></clipPath>
<g clip-path="url(#cr21)"><path d="M914.83 330.15L927.18 342.50M914.83 323.93L927.18 336.28M914.83 317.71L927.18 330.06M914.83 311.49L927.18 323.84M914.83 305.27L927.18 317.62M914.83 299.05L927.18 311.40M914.83 292.83L927.18 305.18M914.83 286.61L927.18 298.96M914.83 280.39L927.18 292.74M914.83 274.17L927.18 286.52M914.83 267.95L927.18 280.30M914.83 261.73L927.18 274.08M914.83 255.51L927.18 267.86M914.83 249.29L927.18 261.64M914.83 243.07L927.18 255.42M914.83 236.85L927.18 249.20M914.83 230.63L927.18 242.98M914.83 224.41L927.18 236.76M914.83 218.19L927.18 230.54M914.83 211.97L927.18 224.32M914.83 205.75L927.18 218.10M914.83 199.53L927.18 211.88M914.83 193.31L927.18 205.66M914.83 187.09L927.18 199.44M914.83 198.55L927.18 186.20M914.83 204.77L927.18 192.42M914.83 210.99L927.18 198.64M914.83 217.21L927.18 204.86M914.83 223.43L927.18 211.08M914.83 229.65L927.18 217.30M914.83 235.87L927.18 223.52M914.83 242.09L927.18 229.74M914.83 248.31L927.18 235.96M914.83 254.53L927.18 242.18M914.83 260.75L927.18 248.40M914.83 266.97L927.18 254.62M914.83 273.19L927.18 260.84M914.83 279.41L927.18 267.06M914.83 285.63L927.18 273.28M914.83 291.85L927.18 279.50M914.83 298.07L927.18 285.72M914.83 304.29L927.18 291.94M914.83 310.51L927.18 298.16M914.83 316.73L927.18 304.38M914.83 322.95L927.18 310.60M914.83 329.17L927.18 316.82M914.83 335.39L927.18 323.04M914.83 341.61L927.18 329.26" stroke="#f04e62" stroke-width="0.68" fill="none"/><path d="M914.34 199.04h0M914.34 205.26h0M914.34 211.48h0M914.34 217.70h0M914.34 223.92h0M914.34 230.14h0M914.34 236.36h0M914.34 242.58h0M914.34 248.80h0M914.34 255.02h0M914.34 261.24h0M914.34 267.46h0M914.34 273.68h0M914.34 279.90h0M914.34 286.12h0M914.34 292.34h0M914.34 298.56h0M914.34 304.78h0M914.34 311.00h0M914.34 317.22h0M914.34 323.44h0M914.34 329.66h0M920.56 199.04h0M920.56 205.26h0M920.56 211.48h0M920.56 217.70h0M920.56 223.92h0M920.56 230.14h0M920.56 236.36h0M920.56 242.58h0M920.56 248.80h0M920.56 255.02h0M920.56 261.24h0M920.56 267.46h0M920.56 273.68h0M920.56 279.90h0M920.56 286.12h0M920.56 292.34h0M920.56 298.56h0M920.56 304.78h0M920.56 311.00h0M920.56 317.22h0M920.56 323.44h0M920.56 329.66h0M926.78 199.04h0M926.78 205.26h0M926.78 211.48h0M926.78 217.70h0M926.78 223.92h0M926.78 230.14h0M926.78 236.36h0M926.78 242.58h0M926.78 248.80h0M926.78 255.02h0M926.78 261.24h0M926.78 267.46h0M926.78 273.68h0M926.78 279.90h0M926.78 286.12h0M926.78 292.34h0M926.78 298.56h0M926.78 304.78h0M926.78 311.00h0M926.78 317.22h0M926.78 323.44h0M926.78 329.66h0M933.00 199.04h0M933.00 205.26h0M933.00 211.48h0M933.00 217.70h0M933.00 223.92h0M933.00 230.14h0M933.00 236.36h0M933.00 242.58h0M933.00 248.80h0M933.00 255.02h0M933.00 261.24h0M933.00 267.46h0M933.00 273.68h0M933.00 279.90h0M933.00 286.12h0M933.00 292.34h0M933.00 298.56h0M933.00 304.78h0M933.00 311.00h0M933.00 317.22h0M933.00 323.44h0M933.00 329.66h0" stroke="#f04e62" stroke-width="1.9" stroke-linecap="round" fill="none"/></g>
<path d="M914.53 325.00V201.70H927.48V325.00" fill="none" stroke="#151515" stroke-width="0.85"/>
<clipPath id="cr22"><rect x="930.26" y="192.20" width="12.35" height="132.80"/></clipPath>
<g clip-path="url(#cr22)"><path d="M930.26 326.92L942.61 339.27M930.26 320.70L942.61 333.05M930.26 314.48L942.61 326.83M930.26 308.26L942.61 320.61M930.26 302.04L942.61 314.39M930.26 295.82L942.61 308.17M930.26 289.60L942.61 301.95M930.26 283.38L942.61 295.73M930.26 277.16L942.61 289.51M930.26 270.94L942.61 283.29M930.26 264.72L942.61 277.07M930.26 258.50L942.61 270.85M930.26 252.28L942.61 264.63M930.26 246.06L942.61 258.41M930.26 239.84L942.61 252.19M930.26 233.62L942.61 245.97M930.26 227.40L942.61 239.75M930.26 221.18L942.61 233.53M930.26 214.96L942.61 227.31M930.26 208.74L942.61 221.09M930.26 202.52L942.61 214.87M930.26 196.30L942.61 208.65M930.26 190.08L942.61 202.43M930.26 183.86L942.61 196.21M930.26 177.64L942.61 189.99M930.26 189.34L942.61 176.99M930.26 195.56L942.61 183.21M930.26 201.78L942.61 189.43M930.26 208.00L942.61 195.65M930.26 214.22L942.61 201.87M930.26 220.44L942.61 208.09M930.26 226.66L942.61 214.31M930.26 232.88L942.61 220.53M930.26 239.10L942.61 226.75M930.26 245.32L942.61 232.97M930.26 251.54L942.61 239.19M930.26 257.76L942.61 245.41M930.26 263.98L942.61 251.63M930.26 270.20L942.61 257.85M930.26 276.42L942.61 264.07M930.26 282.64L942.61 270.29M930.26 288.86L942.61 276.51M930.26 295.08L942.61 282.73M930.26 301.30L942.61 288.95M930.26 307.52L942.61 295.17M930.26 313.74L942.61 301.39M930.26 319.96L942.61 307.61M930.26 326.18L942.61 313.83M930.26 332.40L942.61 320.05M930.26 338.62L942.61 326.27" stroke="#b02f70" stroke-width="0.68" fill="none"/><path d="M926.78 186.60h0M926.78 192.82h0M926.78 199.04h0M926.78 205.26h0M926.78 211.48h0M926.78 217.70h0M926.78 223.92h0M926.78 230.14h0M926.78 236.36h0M926.78 242.58h0M926.78 248.80h0M926.78 255.02h0M926.78 261.24h0M926.78 267.46h0M926.78 273.68h0M926.78 279.90h0M926.78 286.12h0M926.78 292.34h0M926.78 298.56h0M926.78 304.78h0M926.78 311.00h0M926.78 317.22h0M926.78 323.44h0M926.78 329.66h0M933.00 186.60h0M933.00 192.82h0M933.00 199.04h0M933.00 205.26h0M933.00 211.48h0M933.00 217.70h0M933.00 223.92h0M933.00 230.14h0M933.00 236.36h0M933.00 242.58h0M933.00 248.80h0M933.00 255.02h0M933.00 261.24h0M933.00 267.46h0M933.00 273.68h0M933.00 279.90h0M933.00 286.12h0M933.00 292.34h0M933.00 298.56h0M933.00 304.78h0M933.00 311.00h0M933.00 317.22h0M933.00 323.44h0M933.00 329.66h0M939.22 186.60h0M939.22 192.82h0M939.22 199.04h0M939.22 205.26h0M939.22 211.48h0M939.22 217.70h0M939.22 223.92h0M939.22 230.14h0M939.22 236.36h0M939.22 242.58h0M939.22 248.80h0M939.22 255.02h0M939.22 261.24h0M939.22 267.46h0M939.22 273.68h0M939.22 279.90h0M939.22 286.12h0M939.22 292.34h0M939.22 298.56h0M939.22 304.78h0M939.22 311.00h0M939.22 317.22h0M939.22 323.44h0M939.22 329.66h0M945.44 186.60h0M945.44 192.82h0M945.44 199.04h0M945.44 205.26h0M945.44 211.48h0M945.44 217.70h0M945.44 223.92h0M945.44 230.14h0M945.44 236.36h0M945.44 242.58h0M945.44 248.80h0M945.44 255.02h0M945.44 261.24h0M945.44 267.46h0M945.44 273.68h0M945.44 279.90h0M945.44 286.12h0M945.44 292.34h0M945.44 298.56h0M945.44 304.78h0M945.44 311.00h0M945.44 317.22h0M945.44 323.44h0M945.44 329.66h0" stroke="#b02f70" stroke-width="1.9" stroke-linecap="round" fill="none"/></g>
<path d="M929.96 325.00V191.90H942.91V325.00" fill="none" stroke="#151515" stroke-width="0.85"/>
<clipPath id="cr23"><rect x="945.68" y="174.10" width="12.35" height="150.90"/></clipPath>
<g clip-path="url(#cr23)"><path d="M945.68 329.90L958.03 342.25M945.68 323.68L958.03 336.03M945.68 317.46L958.03 329.81M945.68 311.24L958.03 323.59M945.68 305.02L958.03 317.37M945.68 298.80L958.03 311.15M945.68 292.58L958.03 304.93M945.68 286.36L958.03 298.71M945.68 280.14L958.03 292.49M945.68 273.92L958.03 286.27M945.68 267.70L958.03 280.05M945.68 261.48L958.03 273.83M945.68 255.26L958.03 267.61M945.68 249.04L958.03 261.39M945.68 242.82L958.03 255.17M945.68 236.60L958.03 248.95M945.68 230.38L958.03 242.73M945.68 224.16L958.03 236.51M945.68 217.94L958.03 230.29M945.68 211.72L958.03 224.07M945.68 205.50L958.03 217.85M945.68 199.28L958.03 211.63M945.68 193.06L958.03 205.41M945.68 186.84L958.03 199.19M945.68 180.62L958.03 192.97M945.68 174.40L958.03 186.75M945.68 168.18L958.03 180.53M945.68 161.96L958.03 174.31M945.68 155.74L958.03 168.09M945.68 173.92L958.03 161.57M945.68 180.14L958.03 167.79M945.68 186.36L958.03 174.01M945.68 192.58L958.03 180.23M945.68 198.80L958.03 186.45M945.68 205.02L958.03 192.67M945.68 211.24L958.03 198.89M945.68 217.46L958.03 205.11M945.68 223.68L958.03 211.33M945.68 229.90L958.03 217.55M945.68 236.12L958.03 223.77M945.68 242.34L958.03 229.99M945.68 248.56L958.03 236.21M945.68 254.78L958.03 242.43M945.68 261.00L958.03 248.65M945.68 267.22L958.03 254.87M945.68 273.44L958.03 261.09M945.68 279.66L958.03 267.31M945.68 285.88L958.03 273.53M945.68 292.10L958.03 279.75M945.68 298.32L958.03 285.97M945.68 304.54L958.03 292.19M945.68 310.76L958.03 298.41M945.68 316.98L958.03 304.63M945.68 323.20L958.03 310.85M945.68 329.42L958.03 317.07M945.68 335.64L958.03 323.29M945.68 341.86L958.03 329.51" stroke="#877fbe" stroke-width="0.68" fill="none"/><path d="M945.44 167.94h0M945.44 174.16h0M945.44 180.38h0M945.44 186.60h0M945.44 192.82h0M945.44 199.04h0M945.44 205.26h0M945.44 211.48h0M945.44 217.70h0M945.44 223.92h0M945.44 230.14h0M945.44 236.36h0M945.44 242.58h0M945.44 248.80h0M945.44 255.02h0M945.44 261.24h0M945.44 267.46h0M945.44 273.68h0M945.44 279.90h0M945.44 286.12h0M945.44 292.34h0M945.44 298.56h0M945.44 304.78h0M945.44 311.00h0M945.44 317.22h0M945.44 323.44h0M945.44 329.66h0M951.66 167.94h0M951.66 174.16h0M951.66 180.38h0M951.66 186.60h0M951.66 192.82h0M951.66 199.04h0M951.66 205.26h0M951.66 211.48h0M951.66 217.70h0M951.66 223.92h0M951.66 230.14h0M951.66 236.36h0M951.66 242.58h0M951.66 248.80h0M951.66 255.02h0M951.66 261.24h0M951.66 267.46h0M951.66 273.68h0M951.66 279.90h0M951.66 286.12h0M951.66 292.34h0M951.66 298.56h0M951.66 304.78h0M951.66 311.00h0M951.66 317.22h0M951.66 323.44h0M951.66 329.66h0M957.88 167.94h0M957.88 174.16h0M957.88 180.38h0M957.88 186.60h0M957.88 192.82h0M957.88 199.04h0M957.88 205.26h0M957.88 211.48h0M957.88 217.70h0M957.88 223.92h0M957.88 230.14h0M957.88 236.36h0M957.88 242.58h0M957.88 248.80h0M957.88 255.02h0M957.88 261.24h0M957.88 267.46h0M957.88 273.68h0M957.88 279.90h0M957.88 286.12h0M957.88 292.34h0M957.88 298.56h0M957.88 304.78h0M957.88 311.00h0M957.88 317.22h0M957.88 323.44h0M957.88 329.66h0M964.10 167.94h0M964.10 174.16h0M964.10 180.38h0M964.10 186.60h0M964.10 192.82h0M964.10 199.04h0M964.10 205.26h0M964.10 211.48h0M964.10 217.70h0M964.10 223.92h0M964.10 230.14h0M964.10 236.36h0M964.10 242.58h0M964.10 248.80h0M964.10 255.02h0M964.10 261.24h0M964.10 267.46h0M964.10 273.68h0M964.10 279.90h0M964.10 286.12h0M964.10 292.34h0M964.10 298.56h0M964.10 304.78h0M964.10 311.00h0M964.10 317.22h0M964.10 323.44h0M964.10 329.66h0" stroke="#877fbe" stroke-width="1.9" stroke-linecap="round" fill="none"/></g>
<path d="M945.38 325.00V173.80H958.33V325.00" fill="none" stroke="#151515" stroke-width="0.85"/>
<path d="M961.10 146.80H973.45M961.10 149.90H973.45M961.10 153.00H973.45M961.10 156.10H973.45M961.10 159.20H973.45M961.10 162.30H973.45M961.10 165.40H973.45M961.10 168.50H973.45M961.10 171.60H973.45M961.10 174.70H973.45M961.10 177.80H973.45M961.10 180.90H973.45M961.10 184.00H973.45M961.10 187.10H973.45M961.10 190.20H973.45M961.10 193.30H973.45M961.10 196.40H973.45M961.10 199.50H973.45M961.10 202.60H973.45M961.10 205.70H973.45M961.10 208.80H973.45M961.10 211.90H973.45M961.10 215.00H973.45M961.10 218.10H973.45M961.10 221.20H973.45M961.10 224.30H973.45M961.10 227.40H973.45M961.10 230.50H973.45M961.10 233.60H973.45M961.10 236.70H973.45M961.10 239.80H973.45M961.10 242.90H973.45M961.10 246.00H973.45M961.10 249.10H973.45M961.10 252.20H973.45M961.10 255.30H973.45M961.10 258.40H973.45M961.10 261.50H973.45M961.10 264.60H973.45M961.10 267.70H973.45M961.10 270.80H973.45M961.10 273.90H973.45M961.10 277.00H973.45M961.10 280.10H973.45M961.10 283.20H973.45M961.10 286.30H973.45M961.10 289.40H973.45M961.10 292.50H973.45M961.10 295.60H973.45M961.10 298.70H973.45M961.10 301.80H973.45M961.10 304.90H973.45M961.10 308.00H973.45M961.10 311.10H973.45M961.10 314.20H973.45M961.10 317.30H973.45M961.10 320.40H973.45M961.10 323.50H973.45" stroke="#c0318b" stroke-width="1.35" fill="none"/>
<path d="M960.80 325.00V145.60H973.75V325.00" fill="none" stroke="#151515" stroke-width="0.85"/>
<path d="M976.52 137.50H988.88M976.52 140.60H988.88M976.52 143.70H988.88M976.52 146.80H988.88M976.52 149.90H988.88M976.52 153.00H988.88M976.52 156.10H988.88M976.52 159.20H988.88M976.52 162.30H988.88M976.52 165.40H988.88M976.52 168.50H988.88M976.52 171.60H988.88M976.52 174.70H988.88M976.52 177.80H988.88M976.52 180.90H988.88M976.52 184.00H988.88M976.52 187.10H988.88M976.52 190.20H988.88M976.52 193.30H988.88M976.52 196.40H988.88M976.52 199.50H988.88M976.52 202.60H988.88M976.52 205.70H988.88M976.52 208.80H988.88M976.52 211.90H988.88M976.52 215.00H988.88M976.52 218.10H988.88M976.52 221.20H988.88M976.52 224.30H988.88M976.52 227.40H988.88M976.52 230.50H988.88M976.52 233.60H988.88M976.52 236.70H988.88M976.52 239.80H988.88M976.52 242.90H988.88M976.52 246.00H988.88M976.52 249.10H988.88M976.52 252.20H988.88M976.52 255.30H988.88M976.52 258.40H988.88M976.52 261.50H988.88M976.52 264.60H988.88M976.52 267.70H988.88M976.52 270.80H988.88M976.52 273.90H988.88M976.52 277.00H988.88M976.52 280.10H988.88M976.52 283.20H988.88M976.52 286.30H988.88M976.52 289.40H988.88M976.52 292.50H988.88M976.52 295.60H988.88M976.52 298.70H988.88M976.52 301.80H988.88M976.52 304.90H988.88M976.52 308.00H988.88M976.52 311.10H988.88M976.52 314.20H988.88M976.52 317.30H988.88M976.52 320.40H988.88M976.52 323.50H988.88" stroke="#5b8bc8" stroke-width="1.35" fill="none"/>
<path d="M976.23 325.00V136.30H989.18V325.00" fill="none" stroke="#151515" stroke-width="0.85"/>
<path d="M991.95 78.60H1004.30M991.95 81.70H1004.30M991.95 84.80H1004.30M991.95 87.90H1004.30M991.95 91.00H1004.30M991.95 94.10H1004.30M991.95 97.20H1004.30M991.95 100.30H1004.30M991.95 103.40H1004.30M991.95 106.50H1004.30M991.95 109.60H1004.30M991.95 112.70H1004.30M991.95 115.80H1004.30M991.95 118.90H1004.30M991.95 122.00H1004.30M991.95 125.10H1004.30M991.95 128.20H1004.30M991.95 131.30H1004.30M991.95 134.40H1004.30M991.95 137.50H1004.30M991.95 140.60H1004.30M991.95 143.70H1004.30M991.95 146.80H1004.30M991.95 149.90H1004.30M991.95 153.00H1004.30M991.95 156.10H1004.30M991.95 159.20H1004.30M991.95 162.30H1004.30M991.95 165.40H1004.30M991.95 168.50H1004.30M991.95 171.60H1004.30M991.95 174.70H1004.30M991.95 177.80H1004.30M991.95 180.90H1004.30M991.95 184.00H1004.30M991.95 187.10H1004.30M991.95 190.20H1004.30M991.95 193.30H1004.30M991.95 196.40H1004.30M991.95 199.50H1004.30M991.95 202.60H1004.30M991.95 205.70H1004.30M991.95 208.80H1004.30M991.95 211.90H1004.30M991.95 215.00H1004.30M991.95 218.10H1004.30M991.95 221.20H1004.30M991.95 224.30H1004.30M991.95 227.40H1004.30M991.95 230.50H1004.30M991.95 233.60H1004.30M991.95 236.70H1004.30M991.95 239.80H1004.30M991.95 242.90H1004.30M991.95 246.00H1004.30M991.95 249.10H1004.30M991.95 252.20H1004.30M991.95 255.30H1004.30M991.95 258.40H1004.30M991.95 261.50H1004.30M991.95 264.60H1004.30M991.95 267.70H1004.30M991.95 270.80H1004.30M991.95 273.90H1004.30M991.95 277.00H1004.30M991.95 280.10H1004.30M991.95 283.20H1004.30M991.95 286.30H1004.30M991.95 289.40H1004.30M991.95 292.50H1004.30M991.95 295.60H1004.30M991.95 298.70H1004.30M991.95 301.80H1004.30M991.95 304.90H1004.30M991.95 308.00H1004.30M991.95 311.10H1004.30M991.95 314.20H1004.30M991.95 317.30H1004.30M991.95 320.40H1004.30M991.95 323.50H1004.30" stroke="#6aa84c" stroke-width="1.35" fill="none"/>
<path d="M991.65 325.00V77.65H1004.60V325.00" fill="none" stroke="#151515" stroke-width="0.85"/>
<line x1="587.2" x2="1006.0" y1="325.3" y2="325.3" stroke="#999" stroke-width="0.8"/>
<line x1="589.7" x2="589.7" y1="325.0" y2="328.6" stroke="#666" stroke-width="0.9"/>
<line x1="1005.5" x2="1005.5" y1="325.0" y2="328.6" stroke="#666" stroke-width="0.9"/>
<text x="548.40" y="58.40" class="b" style="font-size:17.4px" textLength="33.70" lengthAdjust="spacingAndGlyphs">1,50</text>
<line x1="585.60" x2="589.2" y1="52.7" y2="52.7" stroke="#8a8a8a" stroke-width="0.9"/>
<text x="548.40" y="104.20" class="b" style="font-size:17.4px" textLength="33.70" lengthAdjust="spacingAndGlyphs">1,25</text>
<line x1="585.60" x2="589.2" y1="98.5" y2="98.5" stroke="#8a8a8a" stroke-width="0.9"/>
<text x="548.40" y="149.20" class="b" style="font-size:17.4px" textLength="33.70" lengthAdjust="spacingAndGlyphs">1,00</text>
<line x1="585.60" x2="589.2" y1="143.5" y2="143.5" stroke="#8a8a8a" stroke-width="0.9"/>
<text x="548.40" y="194.80" class="b" style="font-size:17.4px" textLength="33.70" lengthAdjust="spacingAndGlyphs">0,75</text>
<line x1="585.60" x2="589.2" y1="189.1" y2="189.1" stroke="#8a8a8a" stroke-width="0.9"/>
<text x="548.40" y="240.20" class="b" style="font-size:17.4px" textLength="33.70" lengthAdjust="spacingAndGlyphs">0,50</text>
<line x1="585.60" x2="589.2" y1="234.5" y2="234.5" stroke="#8a8a8a" stroke-width="0.9"/>
<text x="548.40" y="285.70" class="b" style="font-size:17.4px" textLength="33.70" lengthAdjust="spacingAndGlyphs">0,25</text>
<line x1="585.60" x2="589.2" y1="280.0" y2="280.0" stroke="#8a8a8a" stroke-width="0.9"/>
<text x="548.40" y="330.70" class="b" style="font-size:17.4px" textLength="33.70" lengthAdjust="spacingAndGlyphs">0,00</text>
<line x1="585.60" x2="589.2" y1="325.0" y2="325.0" stroke="#8a8a8a" stroke-width="0.9"/>
<text x="567.05" y="31.65" class="b" style="font-size:16.15px" textLength="414.6" lengthAdjust="spacingAndGlyphs">Svensk tillverkningsindustri i toppen av CO2-ligan (2)</text>
<text transform="translate(542.6,184.2) rotate(-90)" text-anchor="middle" class="r yl" textLength="227.5" lengthAdjust="spacingAndGlyphs">CO2-ekvivalenter per USD, kilo</text>
<text x="797.2" y="345.4" text-anchor="middle" class="b">2018</text>
<text x="1019.0" y="504.55" text-anchor="end" class="r" style="font-size:13.88px">Källa: Eurostat</text>
<rect x="532.10" y="365.40" width="4.9" height="5.0" fill="#0a0a0a"/><rect x="533.30" y="366.60" width="2.5" height="2.6" fill="#c0318b"/>
<text x="538.55" y="373.50" class="r" style="font-size:16.3px">Irland</text>
<rect x="531.9" y="386.60" width="5.0" height="5.2" fill="#5b8bc8"/>
<text x="538.55" y="394.80" class="r" style="font-size:16.3px">Schweiz</text>
<rect x="531.9" y="407.90" width="5.0" height="5.2" fill="#6aa84c"/>
<text x="538.55" y="416.10" class="r" style="font-size:16.3px">Danmark</text>
<rect x="532.10" y="429.30" width="4.9" height="5.0" fill="#0a0a0a"/><rect x="533.30" y="430.50" width="2.5" height="2.6" fill="#d3d63e"/>
<text x="538.55" y="437.40" class="r" style="font-size:16.3px">Sverige</text>
<rect x="531.9" y="450.50" width="5.0" height="5.2" fill="#1a1a1a"/>
<text x="538.55" y="458.70" class="r" style="font-size:16.3px">Tyskland</text>
<rect x="531.9" y="471.80" width="5.0" height="5.2" fill="#f04e62"/>
<text x="538.55" y="480.00" class="r" style="font-size:16.3px">Frankrike</text>
<rect x="610.60" y="365.40" width="4.9" height="5.0" fill="#0a0a0a"/><rect x="611.80" y="366.60" width="2.5" height="2.6" fill="#99b7dd"/>
<text x="617.05" y="373.50" class="r" style="font-size:16.3px">Lettland</text>
<rect x="610.4" y="386.60" width="5.0" height="5.2" fill="#b02f70"/>
<text x="617.05" y="394.80" class="r" style="font-size:16.3px">UK</text>
<rect x="610.4" y="407.90" width="5.0" height="5.2" fill="#877fbe"/>
<text x="617.05" y="416.10" class="r" style="font-size:16.3px">Finland</text>
<rect x="610.60" y="429.30" width="4.9" height="5.0" fill="#0a0a0a"/><rect x="611.80" y="430.50" width="2.5" height="2.6" fill="#d87fb7"/>
<text x="617.05" y="437.40" class="r" style="font-size:16.3px">Italien</text>
<rect x="610.60" y="450.60" width="4.9" height="5.0" fill="#0a0a0a"/><rect x="611.80" y="451.80" width="2.5" height="2.6" fill="#a3c990"/>
<text x="617.05" y="458.70" class="r" style="font-size:16.3px">EU27</text>
<rect x="610.60" y="471.90" width="4.9" height="5.0" fill="#0a0a0a"/><rect x="611.80" y="473.10" width="2.5" height="2.6" fill="#e4e687"/>
<text x="617.05" y="480.00" class="r" style="font-size:16.3px">Österrike</text>
<rect x="686.60" y="365.40" width="4.9" height="5.0" fill="#0a0a0a"/><rect x="687.80" y="366.60" width="2.5" height="2.6" fill="#717171"/>
<text x="693.05" y="373.50" class="r" style="font-size:16.3px">Tjeckien</text>
<rect x="686.60" y="386.70" width="4.9" height="5.0" fill="#0a0a0a"/><rect x="687.80" y="387.90" width="2.5" height="2.6" fill="#f6919e"/>
<text x="693.05" y="394.80" class="r" style="font-size:16.3px">Ungern</text>
<rect x="686.60" y="408.00" width="4.9" height="5.0" fill="#0a0a0a"/><rect x="687.80" y="409.20" width="2.5" height="2.6" fill="#ce7ea6"/>
<text x="693.05" y="416.10" class="r" style="font-size:16.3px">Estland</text>
<rect x="686.60" y="429.30" width="4.9" height="5.0" fill="#0a0a0a"/><rect x="687.80" y="430.50" width="2.5" height="2.6" fill="#b5b0d7"/>
<text x="693.05" y="437.40" class="r" style="font-size:16.3px">Norge</text>
<rect x="686.60" y="450.60" width="4.9" height="5.0" fill="#0a0a0a"/><rect x="687.80" y="451.80" width="2.5" height="2.6" fill="#e3a2cb"/>
<text x="693.05" y="458.70" class="r" style="font-size:16.3px">Nederländerna</text>
<rect x="686.60" y="471.90" width="4.9" height="5.0" fill="#0a0a0a"/><rect x="687.80" y="473.10" width="2.5" height="2.6" fill="#b5cbe6"/>
<text x="693.05" y="480.00" class="r" style="font-size:16.3px">Portugal</text>
<rect x="804.60" y="365.40" width="4.9" height="5.0" fill="#0a0a0a"/><rect x="805.80" y="366.60" width="2.5" height="2.6" fill="#bcd8ae"/>
<text x="811.05" y="373.50" class="r" style="font-size:16.3px">Spanien</text>
<rect x="804.60" y="386.70" width="4.9" height="5.0" fill="#0a0a0a"/><rect x="805.80" y="387.90" width="2.5" height="2.6" fill="#ebeda8"/>
<text x="811.05" y="394.80" class="r" style="font-size:16.3px">Rumänien</text>
<rect x="804.60" y="408.00" width="4.9" height="5.0" fill="#0a0a0a"/><rect x="805.80" y="409.20" width="2.5" height="2.6" fill="#989898"/>
<text x="811.05" y="416.10" class="r" style="font-size:16.3px">Kroatien</text>
<rect x="804.60" y="429.30" width="4.9" height="5.0" fill="#0a0a0a"/><rect x="805.80" y="430.50" width="2.5" height="2.6" fill="#f8afb8"/>
<text x="811.05" y="437.40" class="r" style="font-size:16.3px">Belgien</text>
<rect x="804.60" y="450.60" width="4.9" height="5.0" fill="#0a0a0a"/><rect x="805.80" y="451.80" width="2.5" height="2.6" fill="#dba1bf"/>
<text x="811.05" y="458.70" class="r" style="font-size:16.3px">Litauen</text>
<rect x="804.60" y="471.90" width="4.9" height="5.0" fill="#0a0a0a"/><rect x="805.80" y="473.10" width="2.5" height="2.6" fill="#c9c5e2"/>
<text x="811.05" y="480.00" class="r" style="font-size:16.3px">Polen</text>
<rect x="888.60" y="365.40" width="4.9" height="5.0" fill="#0a0a0a"/><rect x="889.80" y="366.60" width="2.5" height="2.6" fill="#d87fb7"/>
<text x="895.05" y="373.50" class="r" style="font-size:16.3px">Bulgarien</text>
<rect x="888.60" y="386.70" width="4.9" height="5.0" fill="#0a0a0a"/><rect x="889.80" y="387.90" width="2.5" height="2.6" fill="#99b7dd"/>
<text x="895.05" y="394.80" class="r" style="font-size:16.3px">Island</text>
<rect x="888.60" y="408.00" width="4.9" height="5.0" fill="#0a0a0a"/><rect x="889.80" y="409.20" width="2.5" height="2.6" fill="#a3c990"/>
<text x="895.05" y="416.10" class="r" style="font-size:16.3px">Grekland</text>
</g>
</svg>
</body>
</html>
